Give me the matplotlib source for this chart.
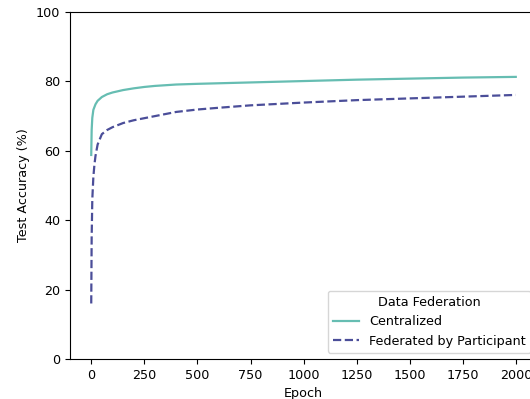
import matplotlib
matplotlib.use("Agg")
import matplotlib.pyplot as plt

# values
epochs_central = [0, 2, 5, 10, 20, 30, 50, 75, 100, 150, 200, 250, 300, 400, 500,
                  750, 1000, 1250, 1500, 1750, 1999]
acc_central = [58.8, 66.0, 69.5, 71.8, 73.4, 74.4, 75.5, 76.3, 76.8, 77.5, 78.0, 78.4,
               78.7, 79.1, 79.3, 79.7, 80.1, 80.5, 80.8, 81.1, 81.3]

epochs_fed = [0, 2, 5, 10, 15, 20, 30, 50, 75, 100, 150, 200, 250, 300, 400, 500,
              600, 750, 1000, 1250, 1500, 1750, 1999]
acc_fed = [16.0, 35.0, 46.0, 52.5, 56.0, 58.5, 61.8, 64.8, 66.0, 66.8, 68.0, 68.8,
           69.4, 70.0, 71.2, 71.9, 72.4, 73.1, 73.9, 74.6, 75.1, 75.6, 76.1]

labels = ["Centralized", "Federated by Participant"]
colors = ["#66bdb2", "#4b4e99"]

plt.rcParams["font.size"] = 9.2

fig = plt.figure(figsize=(5.3, 3.99), dpi=100)
# axes runs a few pixels past the right edge, like the cropped original
ax = fig.add_axes([70 / 530, 40 / 399, 467 / 530, 347 / 399])

ax.plot(epochs_central, acc_central, color=colors[0], lw=1.6, label=labels[0])
ax.plot(epochs_fed, acc_fed, color=colors[1], lw=1.6, ls="--", label=labels[1])

ax.set_ylim(0, 100)
ax.set_xlim(-100, 2099)
ax.set_xticks([0, 250, 500, 750, 1000, 1250, 1500, 1750, 2000])
ax.set_xlabel("Epoch")
ax.set_ylabel("Test Accuracy (%)")
ax.legend(title="Data Federation", loc="lower right")

fig.savefig("out.png", dpi=100)
